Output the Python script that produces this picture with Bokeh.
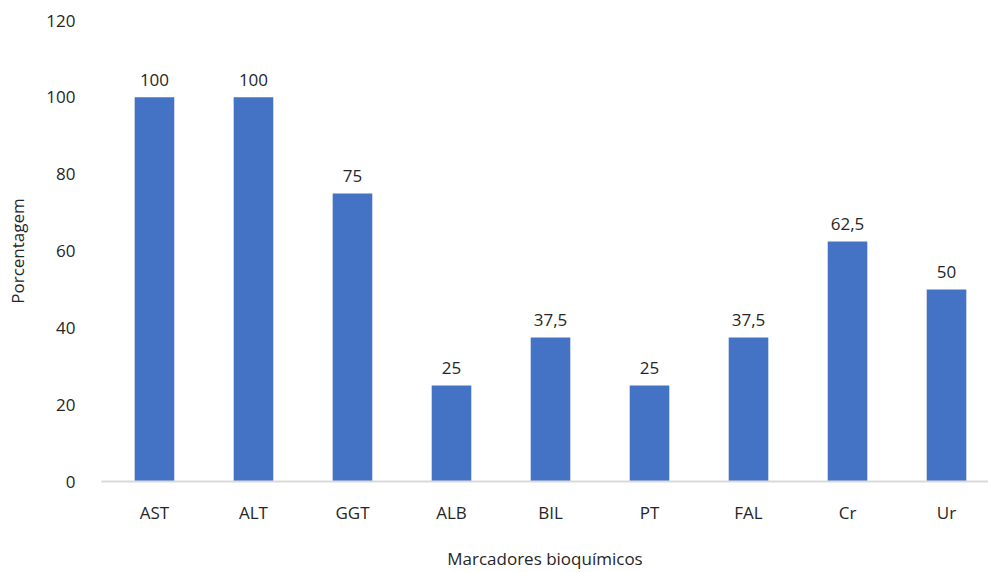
from bokeh.plotting import figure
from bokeh.models import ColumnDataSource, FixedTicker, Range1d
from bokeh.core.properties import value
from bokeh.embed import file_html
from bokeh.resources import INLINE

categories = ["AST", "ALT", "GGT", "ALB", "BIL", "PT", "FAL", "Cr", "Ur"]
percentages = [100, 100, 75, 25, 37.5, 25, 37.5, 62.5, 50]
labels = ["100", "100", "75", "25", "37,5", "25", "37,5", "62,5", "50"]
y_ticks = [0, 20, 40, 60, 80, 100, 120]

FONT = "Open Sans"
FS = "17px"
BAR = "#4472C4"
TXT = "#262626"

xs = list(range(len(categories)))
src = ColumnDataSource(dict(x=xs, y=percentages, lab=labels))

p = figure(width=988, height=572, output_backend="svg", toolbar_location=None,
           x_range=Range1d(-0.535, 8.424), y_range=Range1d(0, 120),
           min_border_left=101, min_border_right=0, min_border_top=20, min_border_bottom=91)

p.vbar(x="x", top="y", width=0.4, source=src, fill_color=BAR, line_color=None)
p.text(x="x", y="y", text="lab", source=src, text_align="center", text_baseline="bottom",
       y_offset=-11, text_font=value(FONT), text_font_size=FS, text_color=TXT)

p.xgrid.visible = False
p.ygrid.visible = False
p.outline_line_color = None
p.background_fill_color = "white"
p.border_fill_color = "white"

xa = p.xaxis[0]
xa.ticker = FixedTicker(ticks=xs)
xa.major_label_overrides = {i: c for i, c in enumerate(categories)}
xa.axis_line_color = "#d9d9d9"
xa.axis_line_width = 2
xa.major_tick_line_color = None
xa.minor_tick_line_color = None
xa.major_label_standoff = 13
xa.major_label_text_font = FONT
xa.major_label_text_font_size = FS
xa.major_label_text_color = TXT
xa.axis_label = "Marcadores bioquímicos"
xa.axis_label_text_font = FONT
xa.axis_label_text_font_size = FS
xa.axis_label_text_font_style = "normal"
xa.axis_label_text_color = TXT
xa.axis_label_standoff = 20

ya = p.yaxis[0]
ya.ticker = FixedTicker(ticks=y_ticks)
ya.axis_line_color = None
ya.major_tick_line_color = None
ya.minor_tick_line_color = None
ya.major_label_standoff = 20
ya.major_label_text_font = FONT
ya.major_label_text_font_size = FS
ya.major_label_text_color = TXT
ya.axis_label = "Porcentagem"
ya.axis_label_text_font = FONT
ya.axis_label_text_font_size = FS
ya.axis_label_text_font_style = "normal"
ya.axis_label_text_color = TXT
ya.axis_label_standoff = 14

open("out.html", "w").write(file_html(p, INLINE))
